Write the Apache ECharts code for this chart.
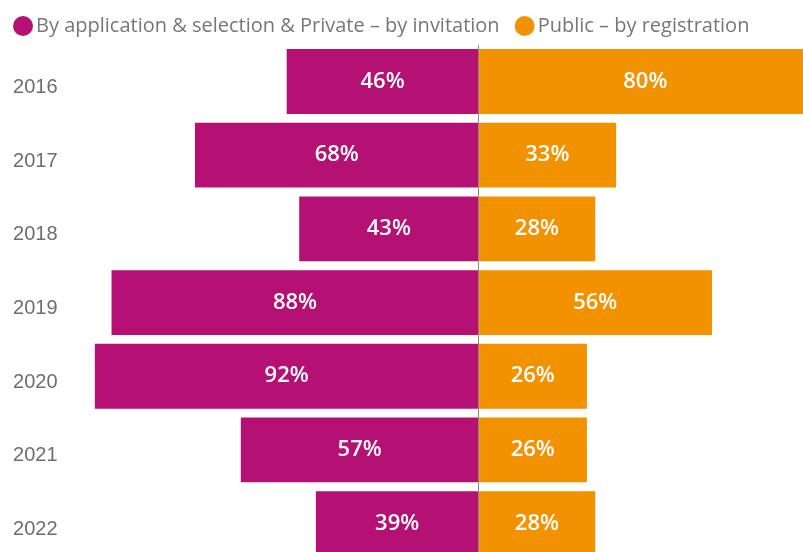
<!DOCTYPE html>
<html>
<head>
<meta charset="utf-8">
<script src="https://cdn.jsdelivr.net/npm/echarts@6/dist/echarts.min.js"></script>
<style>
  html, body { margin: 0; padding: 0; background: #fff; }
  #chart { width: 803px; height: 552px; }
</style>
</head>
<body>
<div id="chart"></div>
<script>
// Survey years, one row each
const years = ['2016', '2017', '2018', '2019', '2020', '2021', '2022'];
// Share by access type, in percent
const privateShare = [46, 68, 43, 88, 92, 57, 39];
const publicShare = [80, 33, 28, 56, 26, 26, 28];

const seriesNames = ['By application & selection & Private – by invitation', 'Public – by registration'];
const colors = ['#B51174', '#F39200'];

const chart = echarts.init(document.getElementById('chart'));

const valueLabel = {
  show: true,
  position: 'inside',
  color: '#fff',
  fontFamily: 'Open Sans',
  fontWeight: 600,
  fontSize: 22,
  formatter: p => Math.abs(p.value) + '%'
};

chart.setOption({
  animation: false,
  legend: {
    left: 8,
    top: 11,
    icon: 'circle',
    itemWidth: 20,
    itemHeight: 20,
    itemGap: 15,
    textStyle: { color: '#777', fontFamily: 'Open Sans', fontSize: 20, padding: [0, 0, 0, -2] },
    data: seriesNames
  },
  grid: {
    left: 61.5, width: 834, top: 44.7, height: 515.7,
    containLabel: false,
    outerBoundsMode: 'none'
  },
  xAxis: {
    type: 'value',
    min: -100,
    max: 100,
    show: false
  },
  yAxis: {
    type: 'category',
    inverse: true,
    data: years,
    axisLine: { show: false },
    axisTick: { show: false },
    axisLabel: {
      margin: 4,
      color: '#6e6e6e',
      fontFamily: 'Liberation Sans',
      fontSize: 20,
      verticalAlign: 'top',
      lineHeight: 12
    }
  },
  series: [
    {
      name: seriesNames[0],
      type: 'bar',
      stack: 'share',
      barCategoryGap: '12%',
      itemStyle: { color: colors[0] },
      label: valueLabel,
      data: privateShare.map(v => -v)
    },
    {
      name: seriesNames[1],
      type: 'bar',
      stack: 'share',
      barCategoryGap: '12%',
      itemStyle: { color: colors[1] },
      label: valueLabel,
      data: publicShare,
      markLine: {
        silent: true,
        symbol: 'none',
        label: { show: false },
        lineStyle: { color: '#8a8a8a', width: 1, type: 'solid' },
        data: [{ xAxis: 0 }]
      }
    }
  ]
});
</script>
</body>
</html>
